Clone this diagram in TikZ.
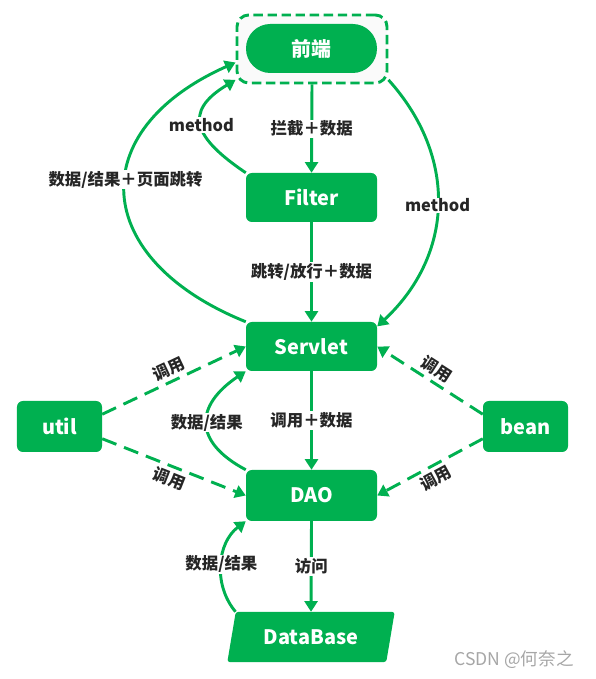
\documentclass[tikz,border=0pt]{standalone}
\usepackage{fontspec}
\setmainfont{Noto Sans CJK SC}
\usepackage{tikz}
\usetikzlibrary{arrows.meta}
\usetikzlibrary{shapes.geometric}
\usepackage{xcolor}
\definecolor{boxgreen}{HTML}{00B050}
\definecolor{textgray}{HTML}{262626}

\begin{document}
\begin{tikzpicture}[x=0.03cm, y=0.03cm,
    box/.style={fill=boxgreen, text=white, rounded corners=5pt, minimum width=3.93cm, minimum height=1.47cm, font=\fontsize{17}{20}\selectfont\bfseries},
    flow/.style={boxgreen, line width=2.5pt, -{Triangle[length=9pt, width=11pt]}},
    calls/.style={flow, dash pattern=on 13pt off 7pt},
    lbl/.style={text=textgray, fill=white, inner sep=1pt, font=\fontsize{14}{16}\selectfont\bfseries}]
    \useasboundingbox (0,0) rectangle (596,679);

    % Front end
    \node[draw=boxgreen, fill=gray!4, line width=2.5pt, dash pattern=on 8pt off 4pt, rounded corners=10pt, minimum width=4.5cm, minimum height=2.04cm] (frontbox) at (312,630) {};
    \node[box, rounded corners=0.73cm] (front) at (311.5,630.5) {前端};

    % Layers
    \node[box] (filter) at (311.5,481.5) {Filter};
    \node[box] (servlet) at (311.5,332.5) {Servlet};
    \node[box, minimum height=1.53cm] (dao) at (311.5,183.5) {DAO};
    \node[box, minimum width=2.55cm, minimum height=1.53cm] (util) at (59.5,252.5) {util};
    \node[box, minimum width=2.55cm, minimum height=1.53cm] (bean) at (525.5,252.5) {bean};
    \node[box, trapezium, trapezium left angle=76, trapezium right angle=104, trapezium stretches, minimum width=5.07cm, minimum height=1.5cm, rounded corners=2pt] (db) at (311,42) {DataBase};

    % Main flow
    \foreach \from/\to/\what in {frontbox/filter/拦截＋数据, filter/servlet/{跳转/放行＋数据}, servlet/dao/调用＋数据, dao/db/访问}
        \draw[flow] (\from.south) -- (\to.north) node[lbl, midway] {\what};

    % Return paths
    \draw[flow] (servlet.north west) to[out=158, in=204, looseness=1.65] node[lbl, pos=0.55] {数据/结果＋页面跳转} (frontbox.190);
    \draw[flow] (filter.north west) to[out=146, in=211, looseness=1.7] node[lbl] {method} (frontbox.202);
    \draw[flow] (frontbox.-22) to[out=-48, in=43, looseness=1.08] node[lbl] {method} (servlet.17);
    \draw[flow] (dao.north west) to[out=152, in=214, looseness=1.58] node[lbl] {数据/结果} (servlet.south west);
    \draw[flow] (db.top left corner) to[out=130, in=217, looseness=1.0] node[lbl] {数据/结果} (dao.south west);

    % Helpers
    \foreach \from/\to/\side in {util.16/servlet.west/above, util.-16/dao.west/below, bean.164/servlet.east/above, bean.196/dao.east/below}
        \draw[calls] (\from) -- (\to) node[lbl, midway, sloped, \side, fill=none, inner sep=3pt] {调用};

    \node[text=gray!70, font=\fontsize{15}{17}\selectfont] (mark) at (514,19) {CSDN @何奈之};
\end{tikzpicture}
\end{document}
